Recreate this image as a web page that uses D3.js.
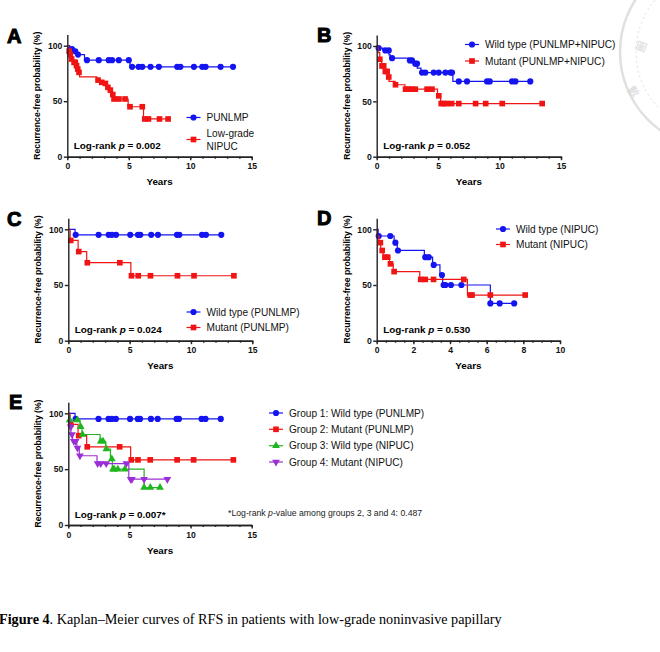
<!DOCTYPE html>
<html>
<head>
<meta charset="utf-8">
<script src="https://cdn.jsdelivr.net/npm/d3@7"></script>
<style>
  body { margin: 0; background: #fff; }
  svg { display: block; }
</style>
</head>
<body>
<svg id="fig" width="660" height="652"></svg>
<script>

// Kaplan-Meier step points [years, % recurrence-free] and censored times
// panel A
var aPunlmpSteps = [[0,100],[0.2,97],[0.5,95],[0.8,92],[1.4,87],[5.1,81]]
var aPunlmpCens = [0.38,0.65,0.87,1.6,2.56,3.37,3.64,4.19,5.0,5.27,5.8,6.1,6.77,7.45,8.94,9.2,10.3,10.98,11.25,12.47,13.48]
var aNipucSteps = [[0,100],[0.1,95],[0.2,92],[0.3,88],[0.5,85],[0.7,82],[0.8,79],[0.9,76],[1.0,72],[2.4,69],[2.7,67],[3.05,66],[3.25,62.5],[3.45,60],[3.65,56],[3.75,52],[4.95,45],[6.2,34]]
var aNipucCens = [0.15,0.25,0.35,0.55,0.65,0.75,0.85,0.95,2.5,2.8,3.1,3.3,3.5,3.7,3.8,4.2,4.7,5.1,6.1,6.3,6.6,7.5,8.2]

// panel B
var bWildSteps = [[0,100],[0.1,98],[0.5,96],[1.0,92],[1.1,89],[2.6,87],[3.0,84],[3.3,80],[3.6,76],[6.2,68]]
var bWildCens = [0.16,0.7,0.98,1.25,2.7,2.87,3.14,3.28,3.69,3.96,4.64,5.05,5.59,6.0,6.13,6.68,7.35,8.98,9.2,11.02,11.29,12.5]
var bMutSteps = [[0,100],[0.1,94],[0.25,88],[0.4,82],[0.7,77],[0.9,72],[1.0,68],[1.5,65],[2.3,61],[4.95,55],[5.2,48]]
var bMutCens = [0.25,0.43,0.57,0.7,0.85,0.98,1.53,2.35,2.6,2.87,3.14,4.1,4.5,5.05,5.25,5.45,5.7,6.1,6.68,8.05,8.87,10.22,13.47]

// panel C (also groups 1 and 2 of E)
var cWildSteps = [[0,100],[0.55,95]]
var cWildCens = [0.6,2.47,3.29,3.56,3.89,5.05,5.68,5.87,6.76,7.31,8.86,9.05,10.9,11.22,12.47]
var cMutSteps = [[0,100],[0.15,90],[0.8,80],[1.5,70],[5.1,58.3]]
var cMutCens = [0.2,0.85,1.55,4.2,5.15,5.7,6.7,8.9,10.25,13.5]

// panel D (also groups 3 and 4 of E)
var dWildSteps = [[0,100],[0.08,94],[0.95,88],[1.12,81],[2.6,75],[3.05,68],[3.45,59],[3.6,50],[6.2,33.5]]
var dWildCens = [0.11,0.74,1.02,1.16,2.65,2.84,3.11,3.56,3.65,3.75,4.05,4.62,6.2,6.71,7.5]
var dMutSteps = [[0,100],[0.03,94],[0.12,88],[0.22,81],[0.35,75],[0.7,69],[0.9,62],[2.35,55],[4.95,41]]
var dMutCens = [0.2,0.3,0.45,0.6,0.75,0.95,2.4,2.65,3.1,4.75,5.1,5.2,6.2,8.1]

var yTicks = [0, 50, 100]
var xTicks15 = [0, 5, 10, 15]
var xTicks10 = [0, 2, 4, 6, 8, 10]

var FONT = "'Liberation Sans', Arial, sans-serif"
var BLUE = "#1414f0", RED = "#f01414", GREEN = "#1fb51f", PURPLE = "#9b2fd6"

var svg = d3.select("#fig")

function survAt(steps, t){
    var v = steps[0][1]
    steps.forEach(function(s){ if(s[0] <= t) v = s[1] })
    return v
}

function marker(type){
    if(type == "circle") return d3.symbol().type(d3.symbolCircle).size(30)()
    if(type == "square") return d3.symbol().type(d3.symbolSquare).size(32)()
    return d3.symbol().type(d3.symbolTriangle).size(26)()
}

function drawPanel(p){
    var g = svg.append("g")
    var x = d3.scaleLinear().domain([0, p.xMax]).range([p.x0, p.x1])
    var y = d3.scaleLinear().domain([0, 100]).range([p.y0, p.y100])
    var yAx = d3.scaleLinear().domain([0, 110]).range([p.y0, y(110)])

    // curves
    p.series.forEach(function(s){
        var tEnd = d3.max(s.cens)
        var pts = s.steps.concat([[tEnd, survAt(s.steps, tEnd)]])
        g.append("path")
            .attr("d", d3.line()
                .x(function(d){ return x(d[0]) })
                .y(function(d){ return y(d[1]) })
                .curve(d3.curveStepAfter)(pts))
            .attr("fill", "none")
            .attr("stroke", s.color)
            .attr("stroke-width", 1.2)
        g.selectAll(null).data(s.cens).enter()
            .append("path")
            .attr("d", marker(s.shape))
            .attr("transform", function(t){
                return "translate(" + x(t) + "," + y(survAt(s.steps, t)) + ")" + (s.flip ? " rotate(180)" : "")
            })
            .attr("fill", s.color)
    })

    // axes
    var xa = g.append("g")
        .attr("transform", "translate(0," + p.y0 + ")")
        .call(d3.axisBottom(x).tickValues(p.minor).tickSize(2).tickSizeOuter(0).tickFormat(""))
    var xb = g.append("g")
        .attr("transform", "translate(0," + p.y0 + ")")
        .call(d3.axisBottom(x).tickValues(p.xTicks).tickSize(3.5).tickSizeOuter(0).tickPadding(3))
    var ya = g.append("g")
        .attr("transform", "translate(" + p.x0 + ",0)")
        .call(d3.axisLeft(yAx).tickValues(yTicks).tickSize(3.5).tickSizeOuter(0).tickPadding(1.5))
    ;[xa, xb, ya].forEach(function(a){
        a.selectAll("path, line").attr("stroke", "#222").attr("stroke-width", 1.4)
        a.selectAll("text").attr("fill", "#111").style("font", "bold 8.6px " + FONT)
    })

    g.append("text")
        .attr("x", (p.x0 + p.x1) / 2)
        .attr("y", p.y0 + 28.5)
        .attr("text-anchor", "middle")
        .style("font", "bold 9.8px " + FONT)
        .text("Years")

    g.append("text")
        .attr("transform", "translate(" + (p.x0 - 27) + "," + ((p.y0 + y(110)) / 2) + ") rotate(-90)")
        .attr("text-anchor", "middle")
        .style("font", "bold 8.6px " + FONT)
        .text("Recurrence-free probability (%)")

    // panel letter
    g.append("text")
        .attr("x", p.lx).attr("y", p.ly)
        .style("font", "900 20px " + FONT)
        .attr("stroke", "#000").attr("stroke-width", 1)
        .text(p.letter)

    // log-rank
    var lr = g.append("text")
        .attr("x", p.x0 + 6.5).attr("y", p.y0 - 7.5)
        .style("font", "bold 9.9px " + FONT)
    lr.append("tspan").text("Log-rank ")
    lr.append("tspan").style("font-style", "italic").text("p")
    lr.append("tspan").text(" = " + p.pval)

    // legend
    p.legend.forEach(function(l, i){
        var s = p.series[i]
        var ly = l.y
        g.append("line")
            .attr("x1", l.x).attr("x2", l.x + 14)
            .attr("y1", ly).attr("y2", ly)
            .attr("stroke", s.color).attr("stroke-width", 1.2)
        g.append("path")
            .attr("d", marker(s.shape))
            .attr("transform", "translate(" + (l.x + 7) + "," + ly + ")" + (s.flip ? " rotate(180)" : ""))
            .attr("fill", s.color)
        l.lines.forEach(function(t, j){
            g.append("text")
                .attr("x", l.x + 20).attr("y", ly + 3.6 + j * 13 - (l.lines.length - 1) * 6.5)
                .style("font", "10.1px " + FONT)
                .attr("fill", "#111")
                .text(t)
        })
    })
    return g
}

var minor15 = d3.range(0, 16, 1)
var minor10 = d3.range(0, 10.5, 0.5)

drawPanel({
    letter: "A", lx: 7, ly: 43,
    x0: 67.3, x1: 251.7, xMax: 15, y0: 156.7, y100: 45.7,
    xTicks: xTicks15, minor: minor15, pval: "0.002",
    series: [
        {steps: aPunlmpSteps, cens: aPunlmpCens, color: BLUE, shape: "circle"},
        {steps: aNipucSteps, cens: aNipucCens, color: RED, shape: "square"}
    ],
    legend: [
        {x: 186.5, y: 117.5, lines: ["PUNLMP"]},
        {x: 186.5, y: 139.5, lines: ["Low-grade", "NIPUC"]}
    ]
})

drawPanel({
    letter: "B", lx: 317, ly: 42,
    x0: 376.7, x1: 561, xMax: 15, y0: 156.7, y100: 46,
    xTicks: xTicks15, minor: minor15, pval: "0.052",
    series: [
        {steps: bWildSteps, cens: bWildCens, color: BLUE, shape: "circle"},
        {steps: bMutSteps, cens: bMutCens, color: RED, shape: "square"}
    ],
    legend: [
        {x: 465, y: 44.5, lines: ["Wild type (PUNLMP+NIPUC)"]},
        {x: 465, y: 61, lines: ["Mutant (PUNLMP+NIPUC)"]}
    ]
})

drawPanel({
    letter: "C", lx: 7, ly: 226,
    x0: 68.3, x1: 252.3, xMax: 15, y0: 340.7, y100: 229.3,
    xTicks: xTicks15, minor: minor15, pval: "0.024",
    series: [
        {steps: cWildSteps, cens: cWildCens, color: BLUE, shape: "circle"},
        {steps: cMutSteps, cens: cMutCens, color: RED, shape: "square"}
    ],
    legend: [
        {x: 186.5, y: 312, lines: ["Wild type (PUNLMP)"]},
        {x: 186.5, y: 327.5, lines: ["Mutant (PUNLMP)"]}
    ]
})

drawPanel({
    letter: "D", lx: 317, ly: 225,
    x0: 376.7, x1: 560, xMax: 10, y0: 340.7, y100: 229.3,
    xTicks: xTicks10, minor: minor10, pval: "0.530",
    series: [
        {steps: dWildSteps, cens: dWildCens, color: BLUE, shape: "circle"},
        {steps: dMutSteps, cens: dMutCens, color: RED, shape: "square"}
    ],
    legend: [
        {x: 496, y: 229, lines: ["Wild type (NIPUC)"]},
        {x: 496, y: 244.5, lines: ["Mutant (NIPUC)"]}
    ]
})

var gE = drawPanel({
    letter: "E", lx: 9, ly: 409,
    x0: 68.3, x1: 251.7, xMax: 15, y0: 525, y100: 413.3,
    xTicks: xTicks15, minor: minor15, pval: "0.007*",
    series: [
        {steps: cWildSteps, cens: cWildCens, color: BLUE, shape: "circle"},
        {steps: cMutSteps, cens: cMutCens, color: RED, shape: "square"},
        {steps: dWildSteps, cens: dWildCens, color: GREEN, shape: "triangle"},
        {steps: dMutSteps, cens: dMutCens, color: PURPLE, shape: "triangle", flip: true}
    ],
    legend: [
        {x: 269, y: 413, lines: ["Group 1: Wild type (PUNLMP)"]},
        {x: 269, y: 429.3, lines: ["Group 2: Mutant (PUNLMP)"]},
        {x: 269, y: 445.7, lines: ["Group 3: Wild type (NIPUC)"]},
        {x: 269, y: 462, lines: ["Group 4: Mutant (NIPUC)"]}
    ]
})

var fn = gE.append("text")
    .attr("x", 228).attr("y", 515.5)
    .style("font", "8.7px " + FONT)
    .attr("fill", "#222")
fn.append("tspan").text("*Log-rank ")
fn.append("tspan").style("font-style", "italic").text("p")
fn.append("tspan").text("-value among groups 2, 3 and 4: 0.487")

// faint seal watermark, top right
var seal = svg.append("g").attr("fill", "none").attr("stroke", "#e0e0e0")
seal.append("circle").attr("cx", 716).attr("cy", 52).attr("r", 96).attr("stroke-width", 2.5)
seal.append("circle").attr("cx", 716).attr("cy", 52).attr("r", 80).attr("stroke-width", 1).attr("stroke-dasharray", "2,3")
svg.append("text").attr("x", 636).attr("y", 50).attr("fill", "#d8d8d8")
    .style("font", "11px 'Noto Sans CJK TC'").attr("transform", "rotate(20,640,46)").text("圖")
svg.append("text").attr("x", 628).attr("y", 96).attr("fill", "#d8d8d8")
    .style("font", "11px 'Noto Sans CJK TC'").attr("transform", "rotate(50,634,92)").text("數")

// caption
var cap = svg.append("text")
    .attr("x", -1).attr("y", 624)
    .style("font", "14.2px 'Liberation Serif', 'Times New Roman', serif")
    .attr("fill", "#000")
cap.append("tspan").style("font-weight", "bold").text("Figure 4")
cap.append("tspan").text(". Kaplan\u2013Meier curves of RFS in patients with low-grade noninvasive papillary")

</script>
</body>
</html>
